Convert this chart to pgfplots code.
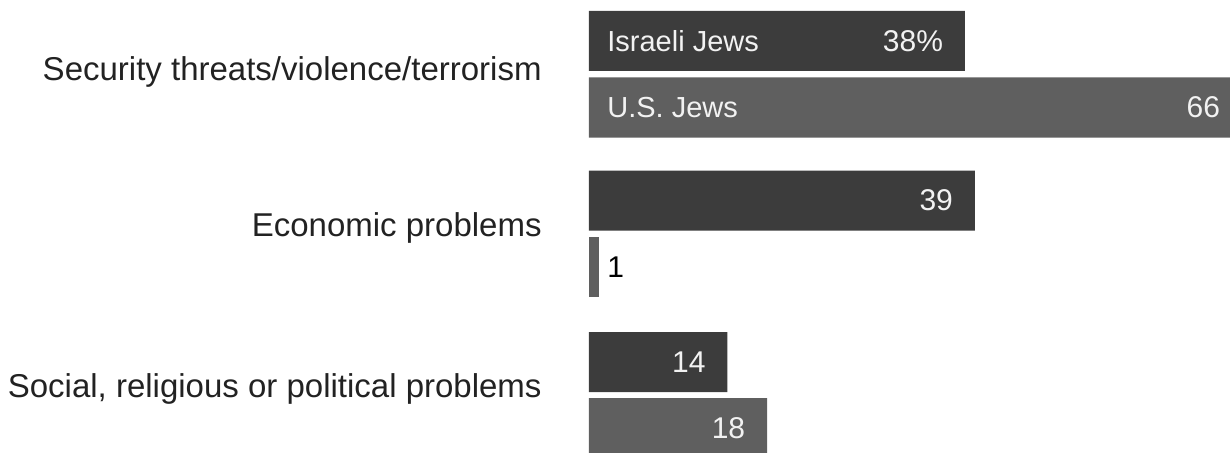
\documentclass[border=0pt]{standalone}
\usepackage{pgfplots}
\pgfplotsset{compat=1.18}
\usepackage{fontspec}
\setmainfont{Liberation Sans}
\definecolor{isr}{HTML}{3C3C3C}
\definecolor{usj}{HTML}{5F5F5F}
\definecolor{lbl}{HTML}{222222}
\definecolor{wtxt}{HTML}{F2F2F2}
\begin{document}
\begin{tikzpicture}
\begin{axis}[
  at={(0,0)}, anchor=north west,
  scale only axis, width=320.5pt, height=226.5pt,
  xmin=0, xmax=64.8, ymin=0, ymax=453, y dir=reverse,
  axis line style={draw=none},
  xtick=\empty,
  ytick={68.5,225,386},
  yticklabels={Security threats/violence/terrorism, Economic problems, {Social, religious or political problems}},
  major tick length=0pt,
  yticklabel style={anchor=base east, yshift=-5.9pt, xshift=-23.5pt, inner sep=0pt, font=\fontsize{16.5}{20}\selectfont, text=lbl},
  xbar, bar width=30pt, bar shift=0pt,
  point meta=explicit symbolic,
  clip=false,
]
\addplot[fill=isr, draw=none, nodes near coords,
  nodes near coords style={anchor=east, xshift=-10.75pt, inner sep=0pt, text=wtxt, font=\fontsize{15}{17}\selectfont}]
  coordinates {(38,41) [38\%] (39,200.5) [39] (14,362) [14]};
\addplot[fill=usj, draw=none, nodes near coords,
  nodes near coords style={anchor=east, xshift=-10.75pt, inner sep=0pt, text=wtxt, font=\fontsize{15}{17}\selectfont}]
  coordinates {(66,107.5) [66] (18,428) [18]};
\addplot[fill=usj, draw=none, nodes near coords,
  nodes near coords style={anchor=west, xshift=4pt, inner sep=0pt, text=black, font=\fontsize{15}{17}\selectfont}]
  coordinates {(1,267) [1]};
\node[anchor=west, xshift=9pt, inner sep=0pt, text=wtxt, font=\fontsize{14.5}{17}\selectfont] at (axis cs:0,41) {Israeli Jews};
\node[anchor=west, xshift=9pt, inner sep=0pt, text=wtxt, font=\fontsize{14.5}{17}\selectfont] at (axis cs:0,107.5) {U.S. Jews};
\end{axis}
\pgfresetboundingbox
\useasboundingbox (-294.5pt,0pt) rectangle (320.5pt,-226.5pt);
\end{tikzpicture}
\end{document}
